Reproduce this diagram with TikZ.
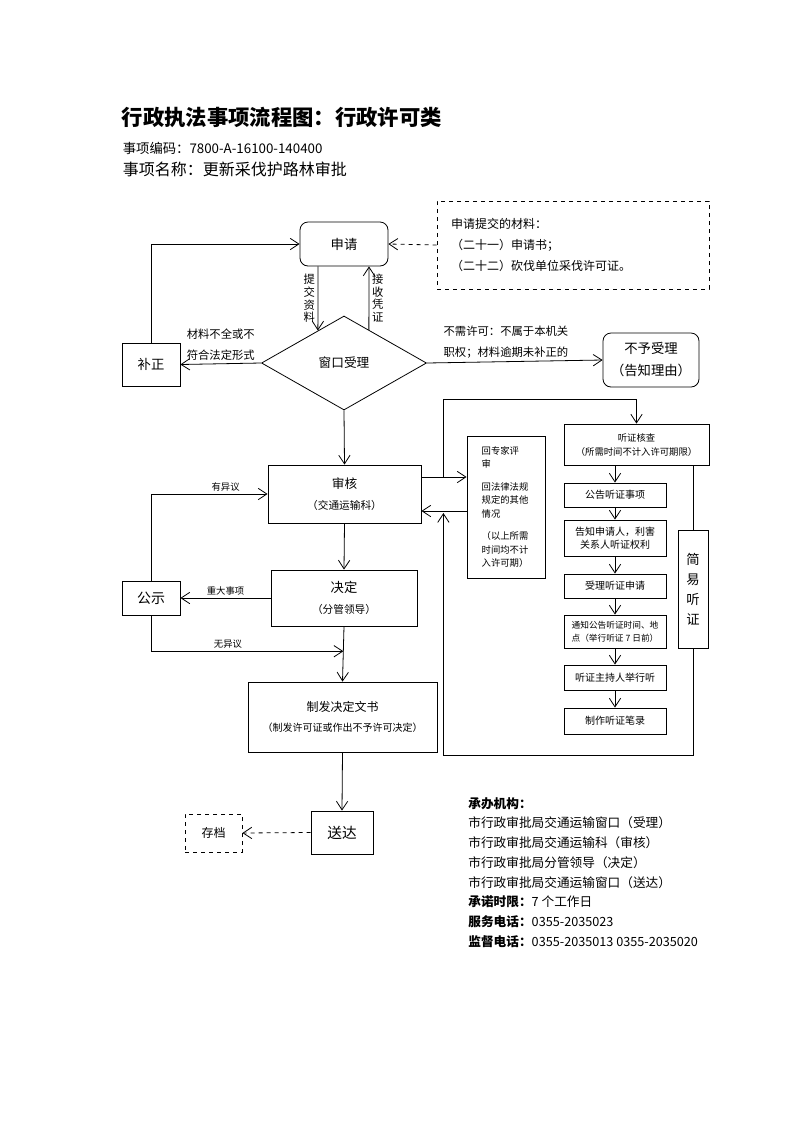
\documentclass[tikz,border=0pt]{standalone}
\usepackage{fontspec}
\setmainfont{Noto Sans CJK SC}
\usetikzlibrary{arrows.meta,shapes.geometric,calc,positioning}
\newcommand\smallcn{\fontsize{8}{15.75}\selectfont}

\begin{document}
\begin{tikzpicture}[x=0.75pt,y=-0.75pt,line width=0.6pt,
  >={Straight Barb[length=6.5pt,width=8.5pt]},
  box/.style={draw,inner sep=1pt,align=center},
  rbox/.style={box,rounded corners=6pt},
  dbox/.style={box,dashed},
  hbox/.style={box,minimum width=76.5pt,font=\fontsize{7.5}{10}\selectfont},
  lbl/.style={font=\fontsize{8.5}{15.75}\selectfont,align=center,inner sep=2pt},
  vlbl/.style={font=\fontsize{8.5}{9.4}\selectfont,align=center,inner sep=1pt},
  tlbl/.style={font=\fontsize{7}{8}\selectfont,inner sep=2pt}]
\useasboundingbox (0,0) rectangle (793,1122);

\node[anchor=west,font=\fontsize{16}{16}\selectfont\bfseries] (title) at (117,117) {行政执法事项流程图：行政许可类};
\node[anchor=west,font=\fontsize{10}{12}\selectfont] (code) at (118,148) {事项编码：7800-A-16100-140400};
\node[anchor=west,font=\fontsize{12}{14}\selectfont] (name) at (118,169) {事项名称：更新采伐护路林审批};

\node[rbox,minimum width=66pt,minimum height=33pt,font=\fontsize{10}{12}\selectfont] (sq) at (344,244) {申请};
\node[dbox,align=left,text width=183pt,inner xsep=10.5pt,minimum height=66pt,font=\fontsize{9}{15.75}\selectfont] (cl) at (573,245) {申请提交的材料：\\（二十一）申请书；\\（二十二）砍伐单位采伐许可证。};
\node[box,minimum width=43.5pt,minimum height=32.25pt,font=\fontsize{10}{12}\selectfont] (bz) at (151,364.5) {补正};
\node[draw,diamond,aspect=1.75,minimum width=123.75pt,minimum height=70.5pt,inner sep=0pt,font=\fontsize{9.5}{12}\selectfont] (ck) at (344,363) {窗口受理};
\node[rbox,minimum width=72pt,minimum height=40.5pt,font=\fontsize{10}{16.5}\selectfont] (bs) at (651,360) {不予受理\\（告知理由）};
\node[box,minimum width=114.75pt,minimum height=43.5pt,font=\fontsize{9.5}{15.75}\selectfont] (sh) at (344.5,494) {审核\\{\smallcn（交通运输科）}};
\node[box,minimum width=109.5pt,minimum height=42pt,font=\fontsize{10}{15.75}\selectfont] (jd) at (344,598) {决定\\{\smallcn（分管领导）}};
\node[box,minimum width=43.5pt,minimum height=25.5pt,font=\fontsize{10.5}{12}\selectfont] (gs) at (151,598) {公示};
\node[box,minimum width=141.75pt,minimum height=52.5pt,font=\fontsize{9}{15}\selectfont] (zf) at (342.5,717) {制发决定文书\\{\fontsize{7.5}{15}\selectfont（制发许可证或作出不予许可决定）}};
\node[box,minimum width=46.5pt,minimum height=32.25pt,font=\fontsize{11}{12}\selectfont] (sd) at (342,832.5) {送达};
\node[dbox,minimum width=42.75pt,minimum height=28.5pt,font=\fontsize{9}{12}\selectfont] (cd) at (213.5,833) {存档};

\node[box,align=left,text width=36.5pt,inner xsep=11pt,minimum height=106.5pt,font=\fontsize{7}{10}\selectfont] (nb) at (506,507) {回专家评\\审\\[7pt]回法律法规\\规定的其他\\情况\\[7pt]（以上所需\\时间均不计\\入许可期）};
\node[box,minimum width=108.75pt,minimum height=30.75pt,font=\fontsize{7}{10.5}\selectfont] (hc) at (636.5,444.5) {听证核查\\（所需时间不计入许可期限）};
\node[hbox,minimum height=18pt] (a1) at (615,495) {公告听证事项};
\node[hbox,minimum height=27pt] (a2) at (615,538) {告知申请人，利害\\关系人听证权利};
\node[hbox,minimum height=18pt] (a3) at (615,586) {受理听证申请};
\node[hbox,minimum height=24.75pt,font=\fontsize{6.5}{9.5}\selectfont] (a4) at (615,631.5) {通知公告听证时间、地\\点（举行听证 7 日前）};
\node[hbox,minimum height=18.75pt] (a5) at (615,677.5) {听证主持人举行听};
\node[hbox,minimum height=19.5pt] (a6) at (615,721) {制作听证笔录};
\node[box,minimum width=22.5pt,minimum height=88.5pt,font=\fontsize{10}{15}\selectfont] (jy) at (693,589) {简\\易\\听\\证};

\node[anchor=north west,align=left,inner sep=0pt,font=\fontsize{9.5}{14.8}\selectfont] (org) at (468,797) {\textbf{承办机构：}\\市行政审批局交通运输窗口（受理）\\市行政审批局交通运输科（审核）\\市行政审批局分管领导（决定）\\市行政审批局交通运输窗口（送达）\\\textbf{承诺时限：}7 个工作日\\\textbf{服务电话：}0355-2035023\\\textbf{监督电话：}0355-2035013 0355-2035020};

\draw[->] ([xshift=-19.5pt]sq.south) -- ($(ck.north)!0.315!(ck.west)$) node[vlbl,midway,left=1pt] {提\\交\\资\\料};
\draw[->] ($(ck.north)!0.30!(ck.east)$) -- ([xshift=18.75pt]sq.south) node[vlbl,midway,right=1pt] {接\\收\\凭\\证};
\draw[->,dashed] (cl.west) -- (sq.east);
\draw[->] (ck.west) -- (bz.east) node[lbl,midway,above] {材料不全或不\\符合法定形式};
\draw[->] (bz.north) |- (sq.west);
\draw[->] (ck.east) -- (bs.west) node[lbl,pos=0.45,above,align=left] {不需许可：不属于本机关\\职权；材料逾期未补正的};
\draw[->] (ck.south) -- (sh.north);
\draw[->] (sh.south) -- (jd.north);
\draw[->] (jd.west) -- (gs.east) node[tlbl,midway,above] {重大事项};
\draw[->] (gs.north) |- (sh.west) node[tlbl,pos=0.82,above] {有异议};
\coordinate (wy) at ($(jd.south)!0.45!(zf.north)$);
\draw[->] (gs.south) |- (wy) node[tlbl,pos=0.7,above] {无异议};
\draw[->] (jd.south) -- (zf.north);
\draw[->] (zf.south) -- (sd.north);
\draw[->,dashed] (sd.west) -- (cd.east);

\coordinate (lp) at ($(sh.east)+(22,-17)$);
\coordinate (rp) at ($(sh.east)+(22,19)$);
\draw[->] ([yshift=12.75pt]sh.east) -- ([yshift=12.75pt]sh.east -| nb.west);
\draw[->] (lp) -- ++(0,-78) -| (hc.north);
\draw[->] ([yshift=-12.75pt]sh.east -| nb.west) -- ([yshift=-12.75pt]sh.east);
\draw[->] (jy.south) -- ++(0,107) -| (rp);
\draw (hc.south -| jy) -- (jy.north);
\draw[->] (hc.south -| a1) -- (a1.north);
\foreach \p/\q in {a1/a2,a2/a3,a3/a4,a4/a5,a5/a6}
  \draw[->] (\p) -- (\q);
\end{tikzpicture}
\end{document}
